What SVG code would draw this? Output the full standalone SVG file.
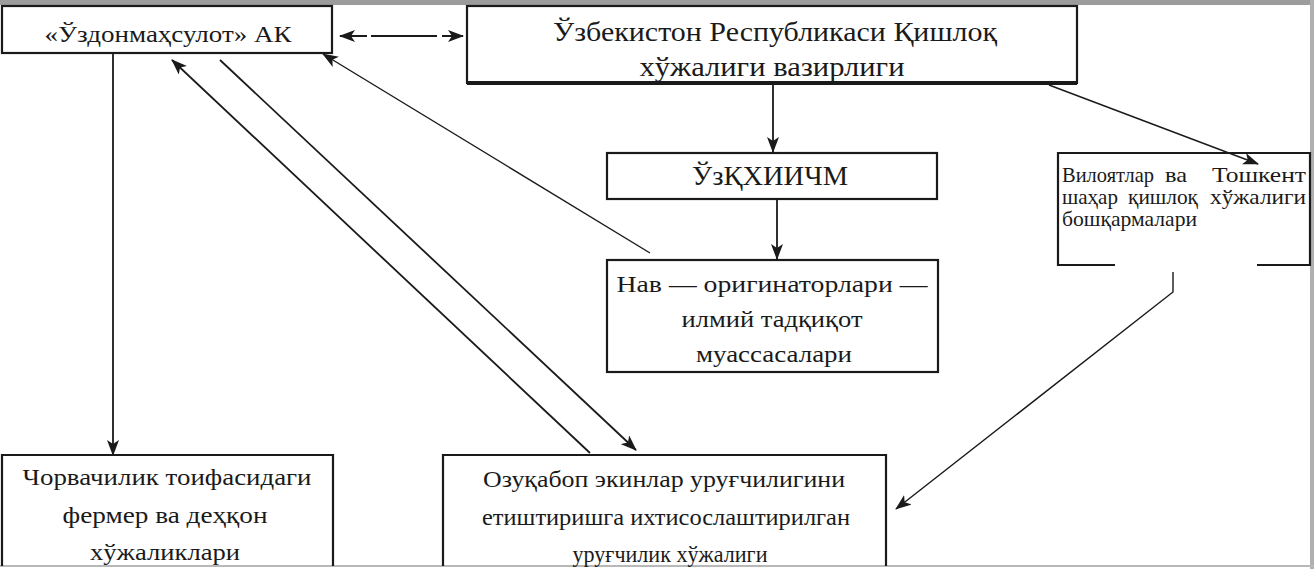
<svg xmlns="http://www.w3.org/2000/svg" width="1314" height="569" viewBox="0 0 1314 569">
<style>
.box{fill:#fff;stroke:#1a1a1a;stroke-width:2.2}
.open{fill:none;stroke:#1a1a1a;stroke-width:2.2}
.t{font-family:"Liberation Serif","DejaVu Serif","Times New Roman",serif;fill:#1a1a1a}
.c{text-anchor:middle}
.s{font-size:21px}
.ln{fill:none;stroke:#1a1a1a;stroke-width:1.8}
.thin{fill:none;stroke:#1a1a1a;stroke-width:1.4}
</style>
<defs>
<marker id="ah" viewBox="0 0 16 12" refX="15" refY="6" markerWidth="16" markerHeight="12" markerUnits="userSpaceOnUse" orient="auto-start-reverse">
<path d="M0,0 L16,6 L0,12 L4,6 z" fill="#1a1a1a"/>
</marker>
</defs>
<rect x="0" y="0" width="1314" height="569" fill="#fff"/>
<g id="frame">
<rect x="0" y="0" width="1314" height="5" fill="#9c9c9c"/>
<rect x="1310" y="0" width="4" height="569" fill="#b0b0b0"/>
<rect x="0" y="565" width="1314" height="2" fill="#b8b8b8"/>
</g>
<g id="n1">
<rect class="box" x="2" y="6" width="330" height="47"/>
<text class="t c" x="168" y="42" font-size="24" textLength="247" lengthAdjust="spacingAndGlyphs">«Ўздонмаҳсулот» АК</text>
</g>
<g id="n2">
<rect class="box" x="467" y="6" width="610" height="77"/>
<line x1="467" y1="83" x2="1077" y2="83" stroke="#1a1a1a" stroke-width="4"/>
<text class="t c" x="775" y="41" font-size="28" textLength="444" lengthAdjust="spacingAndGlyphs">Ўзбекистон Республикаси Қишлоқ</text>
<text class="t c" x="772" y="76" font-size="28" textLength="265" lengthAdjust="spacingAndGlyphs">хўжалиги вазирлиги</text>
</g>
<g id="n3">
<rect class="box" x="607" y="153" width="330" height="46"/>
<text class="t c" x="770" y="185" font-size="27" textLength="156" lengthAdjust="spacingAndGlyphs">ЎзҚХИИЧМ</text>
</g>
<g id="n4">
<rect class="box" x="607" y="260" width="331" height="112"/>
<text class="t c" x="772" y="292" font-size="24" textLength="311" lengthAdjust="spacingAndGlyphs">Нав — оригинаторлари —</text>
<text class="t c" x="772" y="327" font-size="24" textLength="181" lengthAdjust="spacingAndGlyphs">илмий тадқиқот</text>
<text class="t c" x="774" y="362" font-size="24" textLength="156" lengthAdjust="spacingAndGlyphs">муассасалари</text>
</g>
<g id="n5">
<rect x="1058" y="153" width="252" height="112" fill="#fff"/>
<path class="open" d="M1115,265 L1058,265 L1058,153 L1310,153 L1310,265 L1257,265"/>
<text class="t s" x="1062" y="182" textLength="92" lengthAdjust="spacingAndGlyphs">Вилоятлар</text>
<text class="t s" x="1165" y="182" textLength="22" lengthAdjust="spacingAndGlyphs">ва</text>
<text class="t s" x="1212" y="182" textLength="94" lengthAdjust="spacingAndGlyphs">Тошкент</text>
<text class="t s" x="1062" y="204" textLength="56" lengthAdjust="spacingAndGlyphs">шаҳар</text>
<text class="t s" x="1128" y="204" textLength="70" lengthAdjust="spacingAndGlyphs">қишлоқ</text>
<text class="t s" x="1210" y="204" textLength="96" lengthAdjust="spacingAndGlyphs">хўжалиги</text>
<text class="t s" x="1062" y="226" textLength="135" lengthAdjust="spacingAndGlyphs">бошқармалари</text>
</g>
<g id="n6">
<path class="open" d="M2,566 L2,455 L333,455 L333,566"/>
<text class="t c" x="167" y="485" font-size="24" textLength="289" lengthAdjust="spacingAndGlyphs">Чорвачилик тоифасидаги</text>
<text class="t c" x="165" y="523" font-size="24" textLength="205" lengthAdjust="spacingAndGlyphs">фермер ва деҳқон</text>
<text class="t c" x="165" y="560" font-size="24" textLength="150" lengthAdjust="spacingAndGlyphs">хўжаликлари</text>
</g>
<g id="n7">
<path class="open" d="M443,566 L443,455 L886,455 L886,566"/>
<text class="t c" x="664" y="487" font-size="24" textLength="362" lengthAdjust="spacingAndGlyphs">Озуқабоп экинлар уруғчилигини</text>
<text class="t c" x="666" y="525" font-size="24" textLength="368" lengthAdjust="spacingAndGlyphs">етиштиришга ихтисослаштирилган</text>
<text class="t c" x="670" y="562" font-size="24" textLength="195" lengthAdjust="spacingAndGlyphs">уруғчилик хўжалиги</text>
</g>
<g id="connectors">
<line class="ln" x1="340" y1="36" x2="463" y2="36" stroke-dasharray="27,4,66,5,40" marker-start="url(#ah)" marker-end="url(#ah)"/>
<line class="ln" x1="773" y1="84" x2="773" y2="152" marker-end="url(#ah)"/>
<line class="ln" x1="777" y1="199" x2="777" y2="259" marker-end="url(#ah)"/>
<line class="thin" x1="1049" y1="85" x2="1258" y2="164" marker-end="url(#ah)"/>
<polyline class="thin" points="1173,272 1173,292 896,509" marker-end="url(#ah)"/>
<line class="ln" x1="113" y1="54" x2="113" y2="455" marker-end="url(#ah)"/>
<line class="ln" x1="590" y1="453" x2="172" y2="60" marker-end="url(#ah)"/>
<line class="ln" x1="220" y1="60" x2="636" y2="450" marker-end="url(#ah)"/>
<line class="thin" x1="650" y1="253" x2="323" y2="54" marker-end="url(#ah)"/>
</g>
</svg>
